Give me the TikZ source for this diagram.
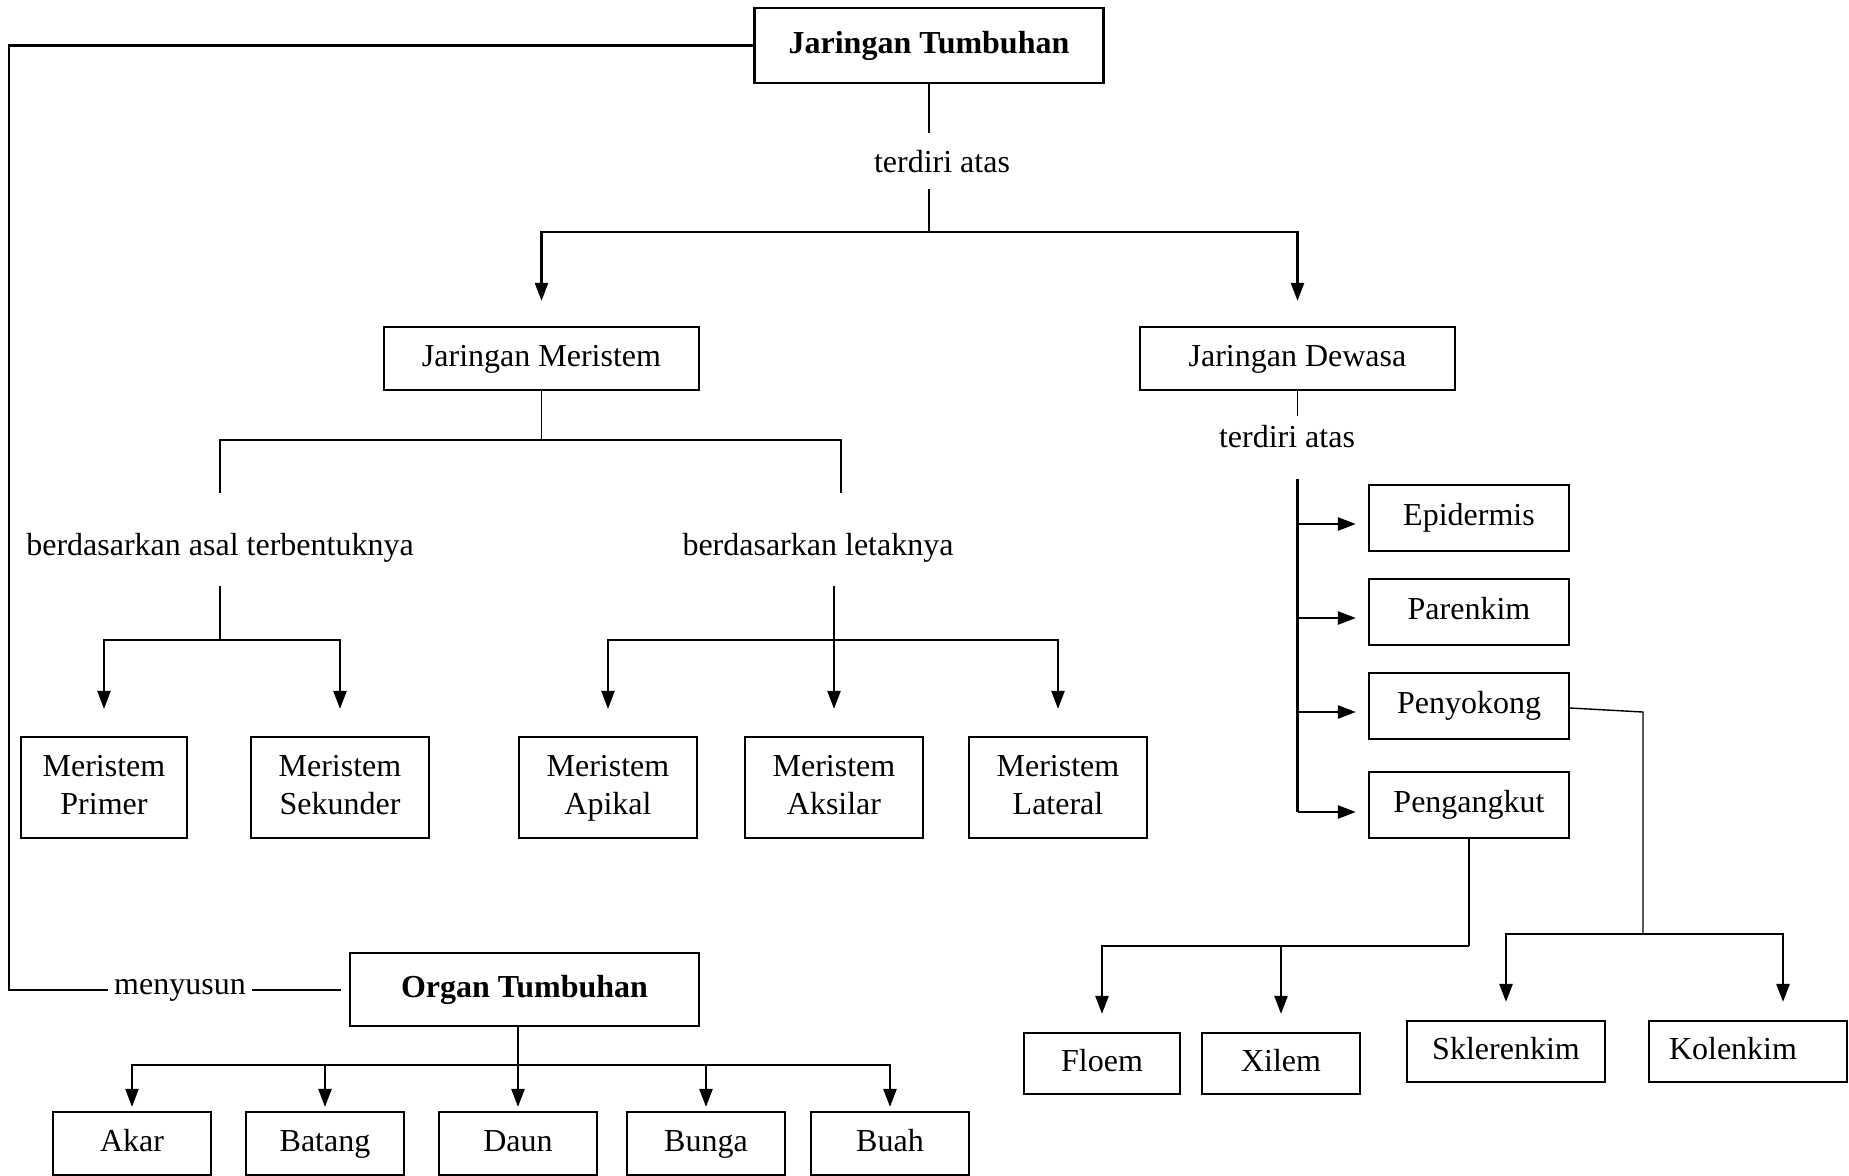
\documentclass[tikz,border=0pt]{standalone}
\usepackage{fontspec}
\setmainfont{Liberation Serif}
\usetikzlibrary{arrows.meta,calc}
\begin{document}
\begin{tikzpicture}[x=0.5pt,y=-0.5pt,
  font=\fontsize{16}{19}\selectfont,
  box/.style={draw,line width=1.1pt,inner sep=0pt,align=center},
  sbox/.style={box,text height=11pt,text depth=3.5pt},
  bbox/.style={sbox,font=\fontsize{16}{19}\selectfont\bfseries},
  txt/.style={inner sep=2pt},
  thn/.style={line width=0.7pt},
  thk/.style={line width=1.2pt},
  arr/.style={thk,-{Triangle[length=9pt,width=6.5pt]}},
]
\useasboundingbox (0,0) rectangle (1849,1175);

% main boxes
\node[bbox,minimum width=174.5pt,minimum height=37.5pt] (jt) at (929,45.5) {Jaringan Tumbuhan};
\node[sbox,minimum width=157.5pt,minimum height=31.5pt] (jm) at (541.5,358.5) {Jaringan Meristem};
\node[sbox,minimum width=157.5pt,minimum height=31.5pt] (jd) at (1297.5,358.5) {Jaringan Dewasa};

% meristem boxes
\node[box,minimum width=83pt,minimum height=50.5pt] (prim) at (104,787.5) {Meristem\strut\\Primer\strut};
\node[box,minimum width=89pt,minimum height=50.5pt] (sek) at (340,787.5) {Meristem\strut\\Sekunder\strut};
\node[box,minimum width=89pt,minimum height=50.5pt] (api) at (608,787.5) {Meristem\strut\\Apikal\strut};
\node[box,minimum width=89pt,minimum height=50.5pt] (aks) at (834,787.5) {Meristem\strut\\Aksilar\strut};
\node[box,minimum width=89pt,minimum height=50.5pt] (lat) at (1058,787.5) {Meristem\strut\\Lateral\strut};

% dewasa boxes
\node[sbox,minimum width=100pt,minimum height=33pt] (epi) at (1469,518) {Epidermis};
\node[sbox,minimum width=100pt,minimum height=33pt] (par) at (1469,612) {Parenkim};
\node[sbox,minimum width=100pt,minimum height=33pt] (pen) at (1469,706) {Penyokong};
\node[sbox,minimum width=100pt,minimum height=33pt] (ang) at (1469,805) {Pengangkut};

\node[sbox,minimum width=78pt,minimum height=30.5pt] (flo) at (1102,1063.5) {Floem};
\node[sbox,minimum width=79pt,minimum height=30.5pt] (xil) at (1281,1063.5) {Xilem};
\node[sbox,minimum width=99pt,minimum height=30.5pt] (skl) at (1506,1051.5) {Sklerenkim};
\node[sbox,minimum width=99pt,minimum height=30.5pt] (kol) at (1748,1051.5) {Kolenkim\hspace*{15pt}};

% organ
\node[bbox,minimum width=174.5pt,minimum height=36.5pt] (ot) at (524.5,989.5) {Organ Tumbuhan};
\node[sbox,minimum width=79pt,minimum height=31.5pt] (akar) at (132,1143.5) {Akar};
\node[sbox,minimum width=79pt,minimum height=31.5pt] (bat) at (325,1143.5) {Batang};
\node[sbox,minimum width=79pt,minimum height=31.5pt] (daun) at (518,1143.5) {Daun};
\node[sbox,minimum width=79pt,minimum height=31.5pt] (bun) at (706,1143.5) {Bunga};
\node[sbox,minimum width=79pt,minimum height=31.5pt] (buah) at (890,1143.5) {Buah};

% text labels
\node[txt] (t1) at (942,162) {terdiri atas};
\node[txt] (t2) at (1287,437) {terdiri atas};
\node[txt] (b1) at (220,548) {berdasarkan asal terbentuknya};
\node[txt] (b2) at (818,548) {berdasarkan letaknya};
\node[inner sep=3pt] (men) at (180,990) {menyusun};

% Jaringan Tumbuhan -> JM, JD
\coordinate (c0) at (929,133);
\coordinate (c1) at (929,189);
\coordinate (c2) at (929,232);
\draw[thn] (jt.south) -- (c0);
\draw[thn] (c1) -- (c2);
\draw[arr,shorten >=12.5pt] (c2) -| (jm.north);
\draw[arr,shorten >=12.5pt] (c2) -| (jd.north);

% JM branches
\draw[thn] (jm.south) -- (jm.south |- 0,440);
\draw[line width=1pt] (220,493) -- (220,440) -- (841,440) -- (841,493);
\coordinate (c4) at (220,640);
\draw[thn] (220,586) -- (c4);
\draw[arr,shorten >=13.5pt] (c4) -| (prim.north);
\draw[arr,shorten >=13.5pt] (c4) -| (sek.north);
\coordinate (c5) at (834,640);
\draw[thn] (834,586) -- (c5);
\draw[arr,shorten >=13.5pt] (c5) -| (api.north);
\draw[arr,shorten >=13.5pt] (c5) -- (aks.north);
\draw[arr,shorten >=13.5pt] (c5) -| (lat.north);

% JD branches
\draw[thn] (jd.south) -- (jd.south |- 0,416);
\coordinate (c6) at (1297.5,479);
\coordinate (c7) at (1297.5,812);
\draw[thk] (c6) -- (c7);
\draw[arr,shorten >=6pt] ([yshift=-3pt]epi.west -| c6) -- ([yshift=-3pt]epi.west);
\draw[arr,shorten >=6pt] ([yshift=-3pt]par.west -| c6) -- ([yshift=-3pt]par.west);
\draw[arr,shorten >=6pt] ([yshift=-3pt]pen.west -| c6) -- ([yshift=-3pt]pen.west);
\draw[arr,shorten >=6pt] ([yshift=-3.5pt]ang.west -| c6) -- ([yshift=-3.5pt]ang.west);

% Penyokong
\coordinate (c8) at (1643,934);
\draw[thn] ([yshift=-1pt]pen.east) -- (1643,712) -- (c8);
\draw[arr,shorten >=9pt] (c8) -| (skl.north);
\draw[arr,shorten >=9pt] (c8) -| ([xshift=17.5pt]kol.north);

% Pengangkut
\coordinate (c9) at (1469,946);
\draw[thn] (ang.south) -- (c9);
\draw[arr,shorten >=9pt] (c9) -| (flo.north);
\draw[arr,shorten >=9pt] (c9) -| (xil.north);

% Organ
\coordinate (c10) at (518,1065);
\draw[thn] (c10 |- ot.south) -- (c10);
\draw[arr,shorten >=2pt] (c10) -| (akar.north);
\draw[arr,shorten >=2pt] (c10) -| (bat.north);
\draw[arr,shorten >=2pt] (c10) -- (daun.north);
\draw[arr,shorten >=2pt] (c10) -| (bun.north);
\draw[arr,shorten >=2pt] (c10) -| (buah.north);

% menyusun loop
\draw[thk] (jt.west) -- (9,45.5) |- (men.west);
\draw[thk,shorten >=4pt] (men.east) -- (men.east -| ot.west);
\end{tikzpicture}
\end{document}
